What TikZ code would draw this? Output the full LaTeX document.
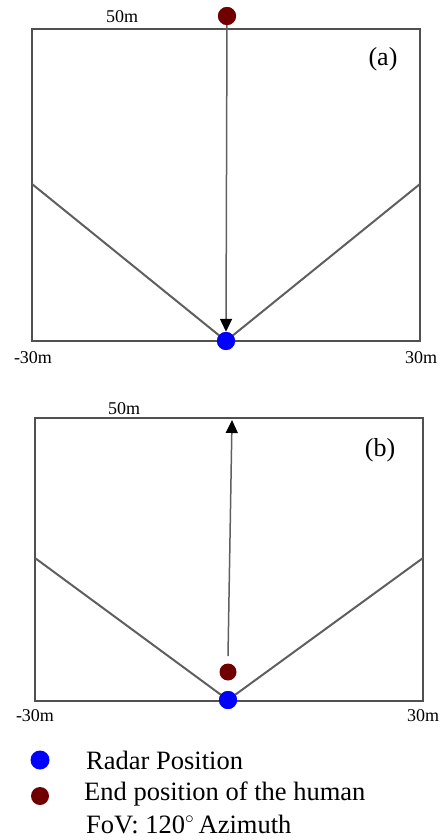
\documentclass[tikz,border=0pt]{standalone}
\usepackage{fontspec}
\setmainfont{Liberation Serif}
\usetikzlibrary{arrows.meta}
\definecolor{dotred}{RGB}{112,0,0}
\definecolor{dotblue}{RGB}{0,0,255}
\definecolor{frame}{RGB}{80,80,80}
\definecolor{fov}{RGB}{95,95,95}
\tikzset{
  framebox/.style={draw=frame,line width=2.2pt},
  fovline/.style={draw=fov,line width=2pt},
  walk/.style={draw=fov,line width=1.5pt,-{Triangle[black,length=13pt,width=12pt]}},
  reddot/.style={circle,fill=dotred,inner sep=0pt,minimum size=18pt},
  bluedot/.style={circle,fill=dotblue,inner sep=0pt,minimum size=18pt},
  axlbl/.style={font=\fontsize{18}{20}\selectfont,inner sep=0pt},
  panel/.style={font=\fontsize{26}{28}\selectfont,inner sep=0pt},
  legtxt/.style={font=\fontsize{26.5}{29}\selectfont,inner sep=0pt,anchor=west}
}
\begin{document}
\begin{tikzpicture}[x=1pt,y=-1pt]
\useasboundingbox (0,0) rectangle (445,840);
% ---------- panel (a)
\coordinate (aTL) at (32,29);
\coordinate (aBR) at (420,341);
\coordinate (aL) at (32,184);
\coordinate (aR) at (420,184);
\draw[framebox] (aTL) rectangle (aBR);
\node[bluedot] (aradar) at (226,341) {};
\draw[fovline] (aL) -- (aradar.center) -- (aR);
\node[reddot] (ahuman) at (227,16) {};
\draw[walk] (ahuman.center) -- (aradar.north);
\node[bluedot] at (226,341) {};
\node[reddot] at (227,16) {};
\node[axlbl] (a50) at (122,17) {50m};
\node[panel] (alab) at (383,59) {(a)};
\node[axlbl] (aneg) at (33,358) {-30m};
\node[axlbl] (apos) at (421,358) {30m};
% ---------- panel (b)
\coordinate (bTL) at (35,418);
\coordinate (bBR) at (423,701);
\coordinate (bL) at (35,558);
\coordinate (bR) at (423,558);
\coordinate (btop) at (232,420);
\draw[framebox] (bTL) rectangle (bBR);
\node[bluedot] (bradar) at (228,700) {};
\draw[fovline] (bL) -- (bradar.center) -- (bR);
\node[bluedot] at (228,700) {};
\node[reddot,minimum size=17pt] (bhuman) at (228,672) {};
\coordinate (bstart) at (228,656);
\draw[walk] (bstart) -- (btop);
\node[axlbl] (b50) at (124,409) {50m};
\node[panel] (blab) at (380,450) {(b)};
\node[axlbl] (bneg) at (35,716) {-30m};
\node[axlbl] (bpos) at (423,716) {30m};
% ---------- legend
\node[bluedot,minimum size=19pt] (lblue) at (40,760) {};
\node[reddot,minimum size=18pt] (lred) at (40,796) {};
\node[legtxt] (ltxt1) at (86,760) {Radar Position};
\node[legtxt] (ltxt2) at (84,794) {End position of the human};
\node[legtxt] (ltxt3) at (86,824) {FoV: 120$^{\circ}$\,Azimuth};
\end{tikzpicture}
\end{document}
